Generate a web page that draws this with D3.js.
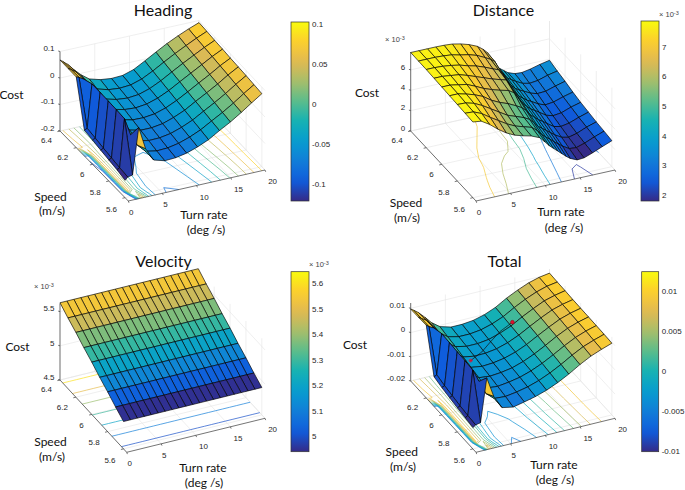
<!DOCTYPE html>
<html><head><meta charset="utf-8">
<script src="https://cdn.jsdelivr.net/npm/d3@7"></script>
<style>html,body{margin:0;background:#fff}svg{display:block}
.t{font-family:"Liberation Sans",Arial,sans-serif;font-size:8px;fill:#262626}
.l{font-family:Lato,sans-serif;font-size:12px;fill:#111}
.h{font-family:Lato,sans-serif;font-size:16px;fill:#111}
</style></head><body><svg id="c" width="685" height="490"></svg>
<script>
const parulaStops=["#352a87","#0f5cdd","#127dd8","#079ccf","#15b1b4","#59bd8c","#a5be6b","#e1b952","#fcce2e","#f9fb0e"];
const speeds=[5.6,5.7,5.8,5.9,6,6.1,6.2,6.3,6.4];
const turnTicks=[0,5,10,15,20];
const speedTicks=[5.6,5.8,6,6.2,6.4];

// Heading
const headingTurn=[0,.4,1.1,2,3,4.2,5.8,7.4,9,10.6,12.2,13.8,15.4,17,18.5,20];
const headingCost=[
[-.122,-.112,-.108,.066,-.02,-.07,-.082,-.08,-.072,-.058,-.04,-.015,.008,.035,.062,.088],
[-.115,-.11,.071,.005,-.04,-.07,-.078,-.076,-.068,-.054,-.036,-.012,.011,.037,.064,.089],
[-.111,-.106,.072,.01,-.032,-.063,-.072,-.071,-.064,-.05,-.032,-.008,.015,.04,.066,.09],
[-.107,-.102,.072,.014,-.024,-.056,-.066,-.066,-.06,-.046,-.028,-.004,.019,.043,.068,.09],
[-.102,-.097,.071,.018,-.018,-.05,-.06,-.061,-.056,-.043,-.024,-.001,.023,.046,.07,.09],
[-.098,-.093,.07,.02,-.012,-.044,-.054,-.057,-.052,-.039,-.02,.004,.027,.05,.072,.091],
[.07,.066,.055,.024,-.009,-.038,-.049,-.053,-.049,-.036,-.016,.008,.031,.053,.073,.091],
[.069,.063,.05,.022,-.007,-.033,-.045,-.049,-.046,-.033,-.012,.012,.035,.056,.075,.092],
[.068,.06,.045,.02,-.005,-.028,-.04,-.045,-.043,-.03,-.007,.017,.04,.06,.077,.092]];
const headingLevels=[-.1,-.08,-.06,-.04,-.02,0,.02,.04,.06,.08];

// Distance
const distanceTurn=[0,1.2,2.4,3.6,4.8,6,7.2,8.4,9.6,10.4,11,11.6,12.2,12.8,13.4,14,15,16,17.2,18.6,20];
const distanceCost=[
[7.75,7.65,7.15,6.5,5.95,5.55,5.3,5.1,4.75,4.2,3.75,3.4,3.05,2.7,2.35,2.05,1.75,1.8,2.1,2.5,2.87],
[7.75,7.7,7.35,6.8,6.3,5.8,5.4,5.15,4.9,4.45,4,3.65,3.35,3,2.7,2.4,2,1.95,2.2,2.6,2.95],
[7.75,7.72,7.5,7.1,6.6,6.1,5.6,5.3,5,4.7,4.3,3.85,3.55,3.25,2.95,2.65,2.25,2.1,2.3,2.7,3],
[7.75,7.75,7.55,7.3,6.95,6.4,6,5.7,5.3,5,4.65,4.1,3.8,3.45,3.2,2.9,2.45,2.3,2.45,2.8,3.1],
[7.75,7.75,7.6,7.45,7.1,6.7,6.4,6.15,5.95,5.6,5,4.4,4,3.65,3.4,3.15,2.7,2.5,2.6,2.95,3.2],
[7.75,7.75,7.65,7.55,7.3,7,6.7,6.4,6.15,6,5.2,4.65,4.15,3.85,3.55,3.35,2.95,2.7,2.8,3.1,3.35],
[7.75,7.75,7.7,7.6,7.45,7.2,7,6.7,6.35,6.15,5.6,4.9,4.35,3.95,3.7,3.5,3.15,2.95,3,3.3,3.55],
[7.72,7.72,7.72,7.68,7.6,7.4,7.25,7,6.6,6.3,6,5.1,4.6,4.1,3.85,3.6,3.25,3.1,3.2,3.5,3.7],
[7.7,7.7,7.7,7.7,7.68,7.62,7.45,7.2,6.85,6.45,6.05,5.2,4.7,4.2,3.9,3.6,3.35,3.3,3.45,3.7,3.9]];
const distanceLevels=[2,3,4,5,6,7];

// Velocity
const velocityTurn=[0,1,2,3,4,5,6,7,8,9,10,11,12,13,14,15,16,17,18,19,20];
const velocityBySpeed=[4.95,5.03,5.12,5.2,5.29,5.37,5.46,5.54,5.63];
const velocityLevels=[5,5.1,5.2,5.3,5.4,5.5,5.6];

// Total
const totalTurn=headingTurn;
const totalCost=[
[-.0098,-.009,-.0085,.0093,.001,-.0045,-.0054,-.0044,-.0033,-.0018,.0002,.0026,.0054,.0078,.0095,.011],
[-.0094,-.0088,.0095,.0042,-.0015,-.0044,-.0047,-.004,-.003,-.0015,.0005,.0029,.0056,.008,.0096,.011],
[-.009,-.0085,.0097,.0044,-.001,-.0038,-.0042,-.0036,-.0027,-.0012,.0008,.0032,.0058,.0081,.0097,.0109],
[-.0085,-.008,.0097,.0046,-.0005,-.0032,-.0037,-.0033,-.0025,-.001,.001,.0034,.006,.0082,.0097,.0108],
[-.008,-.0075,.0098,.0048,0,-.0026,-.0033,-.003,-.0022,-.0008,.0012,.0037,.0061,.0083,.0097,.0107],
[-.0072,-.0067,.0098,.005,.0005,-.002,-.0028,-.0027,-.002,-.0006,.0014,.0039,.0063,.0084,.0097,.0106],
[.0104,.0095,.0085,.0052,.001,-.0014,-.0024,-.0024,-.0018,-.0004,.0015,.0041,.0064,.0085,.0097,.0106],
[.01,.0092,.008,.005,.0015,-.001,-.0021,-.0021,-.0015,-.0002,.0017,.0043,.0066,.0085,.0098,.0105],
[.0097,.009,.0075,.005,.002,-.0005,-.0018,-.0018,-.0013,-.0001,.0018,.0045,.0067,.0086,.0098,.0105]];
const totalLevels=[-.005,-.0035,-.002,-.0005,.001,.003,.005,.007,.009];
const pathTurn=[3,6,9.1,10.2,12.3];
const pathSpeed=[5.92,6.04,6.2,6.175,6.2];
const pathCost=[.004,.001,-.003,.0015,.003];

const svg=d3.select("#c");
const parula=d3.piecewise(d3.interpolateRgb,parulaStops);

const panels=[
{title:"Heading",tx:163,ty:10.4,turn:headingTurn,cost:headingCost,levels:headingLevels,
 near:[128.3,201],xEnd:[265,170],yEnd:[60,131],far:[199,100],zDom:[-.2,.1],zLen:79.5,
 zTicks:[-.2,-.1,0,.1],yT:speedTicks,
 cDom:[-.121,.1025],cBox:[291,22,18,179],cTicks:[-.1,-.05,0,.05,.1],
 cost_:[11.5,94.5],sp:[50.5,196.5,52,211],tr:[204,215,206,230]},
{title:"Distance",tx:503.5,ty:10.4,turn:distanceTurn,cost:distanceCost,levels:distanceLevels,
 near:[476,201],xEnd:[615,170],yEnd:[410.7,131],far:[549.5,100],zDom:[0,7.75],zLen:79,
 zTicks:[0,2,4,6],yT:speedTicks,
 cDom:[1.8,7.87],cBox:[641,21,18,180],cTicks:[2,3,4,5,6,7],
 cost_:[367,93],sp:[406,202.7,407,218],tr:[561,212,564,227.7],
 axMul:[385,39],cMul:[659,14]},
{title:"Velocity",tx:163.5,ty:261,turn:velocityTurn,cost:speeds.map((s,i)=>velocityTurn.map(()=>velocityBySpeed[i])),levels:velocityLevels,
 near:[126.7,452.3],xEnd:[265,418.3],yEnd:[60,380],far:[198.3,346],zDom:[4.5,5.62],zLen:76.6,
 zTicks:[4.5,5,5.5],yT:speedTicks,
 cDom:[4.94,5.645],cBox:[291,271.7,18,180],cTicks:[5,5.1,5.2,5.3,5.4,5.5,5.6],
 cost_:[17.5,346.7],sp:[50.5,442,52,456.7],tr:[203,468,204,483],
 axMul:[34,286],cMul:[309,264]},
{title:"Total",tx:504.5,ty:261,turn:totalTurn,cost:totalCost,levels:totalLevels,
 near:[476,452.3],xEnd:[615,418.3],yEnd:[410.7,381],far:[549.5,347],zDom:[-.02,.0122],zLen:78,
 zTicks:[-.02,-.01,0,.01],yT:[5.6,5.8,6,6.2],
 cDom:[-.0101,.01243],cBox:[641.7,271.7,17,180],cTicks:[-.01,-.005,0,.005,.01],
 cost_:[355,345],sp:[401.8,452,403,466.7],tr:[554,465,555,480],
 path:true}
];

panels.forEach(p=>{
  const g=svg.append("g");
  const u=d3.scaleLinear([0,20],[0,1]);
  const zS=d3.scaleLinear(p.zDom,[0,p.zLen]);
  const col=d3.scaleLinear(p.cDom,[0,1]).clamp(true);
  const bil=(a,b,i)=>{const n=p.near[i],xe=p.xEnd[i],ye=p.yEnd[i],f=p.far[i];
    return (1-a)*(1-b)*n+a*(1-b)*xe+(1-a)*b*ye+a*b*f;};
  const vS=lo=>d3.scaleLinear([lo,6.4],[0,1]);
  const pr=(x,y,z,loX=5.56,loY=5.56)=>{
    const a=u(x),bx=vS(loX)(y),by=vS(loY)(y);
    return [bil(a,bx,0),bil(a,by,1)-zS(z)];
  };
  const line=pts=>"M"+pts.map(q=>q[0].toFixed(2)+","+q[1].toFixed(2)).join("L");
  const zMin=p.zDom[0],zMax=p.zDom[1];
  const addLine=(pts,st,w)=>g.append("path").attr("d",line(pts)).attr("fill","none").attr("stroke",st).attr("stroke-width",w);
  // grid
  const gridC="#e4e4e4";
  turnTicks.forEach(t=>addLine([pr(t,5.56,zMin),pr(t,6.4,zMin),pr(t,6.4,zMax)],gridC,.6));
  speedTicks.forEach(s=>addLine([pr(0,s,zMin),pr(20,s,zMin),pr(20,s,zMax)],gridC,.6));
  p.zTicks.forEach(z=>addLine([pr(0,6.4,z),pr(20,6.4,z),pr(20,5.56,z)],gridC,.6));
  // contours on the floor
  const fl=(x,y)=>pr(x,y,zMin,5.6,5.6);
  p.levels.forEach(L=>{
    let d="";
    for(let j=0;j<speeds.length-1;j++)for(let i=0;i<p.turn.length-1;i++){
      const a=p.cost[j][i],b=p.cost[j][i+1],c=p.cost[j+1][i+1],e=p.cost[j+1][i];
      const x0=p.turn[i],x1=p.turn[i+1],y0=speeds[j],y1=speeds[j+1];
      const pts=[];
      if((a<L)!==(b<L))pts.push(fl(x0+(L-a)/(b-a)*(x1-x0),y0));
      if((b<L)!==(c<L))pts.push(fl(x1,y0+(L-b)/(c-b)*(y1-y0)));
      if((c<L)!==(e<L))pts.push(fl(x0+(L-e)/(c-e)*(x1-x0),y1));
      if((e<L)!==(a<L))pts.push(fl(x0,y0+(L-a)/(e-a)*(y1-y0)));
      if(pts.length>=2)d+=line(pts.slice(0,2));
      if(pts.length===4)d+=line(pts.slice(2,4));
    }
    g.append("path").attr("d",d).attr("fill","none").attr("stroke",parula(col(L))).attr("stroke-width",.7);
  });
  // axes
  const axC="#3a3a3a";
  addLine([pr(0,6.4,zMax),pr(0,6.4,zMin),pr(0,5.56,zMin),pr(20,5.56,zMin)],axC,.7);
  // surface, far cells first
  const sur=(i,j)=>pr(p.turn[i],speeds[j],p.cost[j][i],5.56,5.6);
  for(let j=speeds.length-2;j>=0;j--)for(let i=p.turn.length-2;i>=0;i--){
    g.append("path").attr("d",line([sur(i,j),sur(i+1,j),sur(i+1,j+1),sur(i,j+1)])+"Z")
      .attr("fill",parula(col(p.cost[j][i]))).attr("stroke","#000").attr("stroke-width",.65).attr("stroke-linejoin","round");
  }
  // ticks
  turnTicks.forEach(t=>{
    const q=pr(t,5.56,zMin);
    addLine([q,[q[0]+.7,q[1]+1.8]],axC,.7);
    g.append("text").attr("class","t").attr("x",q[0]+(t>=10?7.6:3)).attr("y",q[1]+11.3).attr("dy",".35em").attr("text-anchor","middle").text(t);
  });
  p.yT.forEach(s=>{
    const q=pr(0,s,zMin),k=(6.4-s)/.84;
    addLine([q,[q[0]-2.6,q[1]+.6]],axC,.7);
    g.append("text").attr("class","t").attr("x",q[0]-8).attr("y",q[1]+9+2.7*k).attr("dy",".35em").attr("text-anchor","end").text(s);
  });
  p.zTicks.forEach(z=>{
    const q=pr(0,6.4,z);
    addLine([q,[q[0]-1.8,q[1]-.5]],axC,.7);
    g.append("text").attr("class","t").attr("x",q[0]-5.5).attr("y",q[1]-3).attr("dy",".35em").attr("text-anchor","end").text(z);
  });
  // optimum path on Total
  if(p.path){
    const pts=pathTurn.map((t,i)=>pr(t,pathSpeed[i],pathCost[i],5.6,5.6));
    addLine(pts,"#111",.7);
    const a=pts[0],b=pts[pts.length-1];
    g.append("circle").attr("cx",b[0]).attr("cy",b[1]).attr("r",1.9).attr("fill","#e01030").attr("stroke","#700").attr("stroke-width",.4);
    g.append("path").attr("d",`M${a[0]-2},${a[1]}H${a[0]+2}M${a[0]},${a[1]-2}V${a[1]+2}M${a[0]-1.5},${a[1]-1.5}L${a[0]+1.5},${a[1]+1.5}M${a[0]-1.5},${a[1]+1.5}L${a[0]+1.5},${a[1]-1.5}`)
      .attr("stroke","#e01030").attr("stroke-width",.8);
  }
  // colour bar
  const [cx,cy,cw,ch]=p.cBox;
  const cS=d3.scaleLinear(p.cDom,[cy+ch,cy]);
  const id="g"+p.title;
  const lg=svg.append("defs").append("linearGradient").attr("id",id).attr("x1",0).attr("y1",1).attr("x2",0).attr("y2",0);
  d3.range(0,1.0001,.05).forEach(t=>lg.append("stop").attr("offset",t).attr("stop-color",parula(t)));
  g.append("rect").attr("x",cx).attr("y",cy).attr("width",cw).attr("height",ch).attr("fill",`url(#${id})`).attr("stroke","#333").attr("stroke-width",.7);
  p.cTicks.forEach(v=>{
    g.append("text").attr("class","t").attr("x",cx+cw+3).attr("y",cS(v)).attr("dy",".35em").text(v);
  });
  const mult=(pos)=>{
    const t=g.append("text").attr("class","t").attr("x",pos[0]).attr("y",pos[1]).attr("dy",".35em").style("font-size","7.5px").style("fill","#444");
    t.append("tspan").text("× 10");
    t.append("tspan").attr("dy","-.35em").style("font-size","5.5px").text("-3");
  };
  if(p.axMul)mult(p.axMul);
  if(p.cMul)mult(p.cMul);
  // labels
  const lab=(s,x,y,c="l")=>g.append("text").attr("class",c).attr("x",x).attr("y",y).attr("dy",".35em").attr("text-anchor","middle").text(s);
  lab(p.title,p.tx,p.ty,"h");
  lab("Cost",...p.cost_);
  lab("Speed",p.sp[0],p.sp[1]);lab("(m/s)",p.sp[2],p.sp[3]);
  lab("Turn rate",p.tr[0],p.tr[1]);lab("(deg /s)",p.tr[2],p.tr[3]);
});
</script></body></html>
